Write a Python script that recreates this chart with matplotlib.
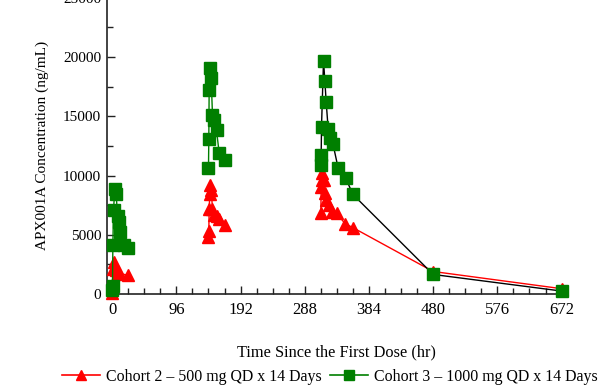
import matplotlib
matplotlib.use("Agg")
import matplotlib.pyplot as plt
from matplotlib.lines import Line2D
from matplotlib.ticker import MultipleLocator

plt.rcParams['font.family'] = ['Liberation Serif', 'DejaVu Serif']

# Cohort 2 (500 mg) - red triangles
c2_day1_t = [0, 0.5, 1, 2, 4, 6, 8, 12, 24]
c2_day1_v = [100, 900, 2100, 2700, 2300, 2000, 1900, 1700, 1600]
c2_day7_t = [144, 144.5, 145, 146, 147, 148, 150, 152, 156, 160, 168]
c2_day7_v = [4850, 5300, 7200, 8400, 9200, 8800, 7200, 6700, 6600, 6300, 5800]
c2_tail_t = [312, 312.5, 313, 314, 316, 318, 320, 324, 328, 336, 348, 360, 480, 672]
c2_tail_v = [6800, 9050, 9600, 10200, 9600, 8500, 7900, 7500, 6950, 6800, 5950, 5600, 1900, 450]

# Cohort 3 (1000 mg) - green squares
c3_day1_t = [0, 0.5, 1, 2, 4, 6, 8, 10, 12, 18, 24]
c3_day1_v = [300, 700, 4100, 7100, 8900, 8400, 6600, 6100, 5200, 4100, 3900]
c3_day7_t = [144, 144.5, 145, 146, 148, 150, 152, 156, 160, 168]
c3_day7_v = [10600, 13100, 17200, 19050, 18200, 15100, 14700, 13800, 11900, 11300]
c3_tail_t = [312, 312.5, 313, 316, 318, 320, 323, 326, 330, 338, 349, 360, 480, 672]
c3_tail_v = [10900, 11700, 14100, 19700, 18000, 16200, 13900, 13200, 12700, 10600, 9800, 8400, 1650, 250]

x_ticks = [0, 96, 192, 288, 384, 480, 576, 672]
label_c2 = "Cohort 2 \u2013 500 mg QD x 14 Days"
label_c3 = "Cohort 3 \u2013 1000 mg QD x 14 Days"

RED = '#ff0000'
GREEN = '#007f00'

fig = plt.figure(figsize=(6.07, 3.86), dpi=100)
ax = fig.add_axes([0.176, 0.2383, 0.758, 0.7675])

mk_r = dict(marker='^', ms=8.5, mfc=RED, mec=RED, clip_on=False, zorder=3)
mk_g = dict(marker='s', ms=9, mfc=GREEN, mec=GREEN, clip_on=False, zorder=4)

ax.plot(c2_day1_t, c2_day1_v, color=RED, lw=1.0, **mk_r)
ax.plot(c2_day7_t, c2_day7_v, color=RED, lw=1.0, **mk_r)
ax.plot(c2_tail_t, c2_tail_v, color=RED, lw=1.0, **mk_r)

ax.plot(c3_day1_t, c3_day1_v, color=GREEN, lw=1.0, **mk_g)
ax.plot(c3_day7_t, c3_day7_v, color=GREEN, lw=1.0, **mk_g)
ax.plot(c3_tail_t, c3_tail_v, color='black', lw=1.0, **mk_g)

ax.set_xlim(-8, 680)
ax.set_ylim(0, 25000)
ax.set_xticks(x_ticks)
ax.xaxis.set_minor_locator(MultipleLocator(24))
ax.yaxis.set_major_locator(MultipleLocator(5000))
ax.yaxis.set_minor_locator(MultipleLocator(2500))
ax.tick_params(which='both', direction='in', color='#222222')
ax.tick_params(axis='y', labelsize=11, pad=4)
ax.tick_params(axis='x', labelsize=12, pad=6)
ax.tick_params(which='major', length=6, width=1)
ax.tick_params(which='minor', length=4, width=1)
for s in ['top', 'right']:
    ax.spines[s].set_visible(False)
for s in ['left', 'bottom']:
    ax.spines[s].set_linewidth(1.2)
    ax.spines[s].set_color('#222222')

ax.set_xlabel("Time Since the First Dose (hr)", fontsize=11.8, labelpad=19)
ax.set_ylabel("APX001A Concentration (ng/mL)", fontsize=11, labelpad=10)

handles = [
    Line2D([], [], color=RED, marker='^', ms=7.5, mfc=RED, mec=RED, lw=1.2),
    Line2D([], [], color=GREEN, marker='s', ms=7.5, mfc=GREEN, mec=GREEN, lw=1.2),
]
fig.legend(handles, [label_c2, label_c3], loc='center', ncol=2, frameon=False,
           bbox_to_anchor=(330 / 607, 1 - 377 / 386), fontsize=11.4,
           handlelength=2.4, columnspacing=0.5, handletextpad=0.4,
           borderaxespad=0, borderpad=0)

fig.savefig("out.png", dpi=100)
